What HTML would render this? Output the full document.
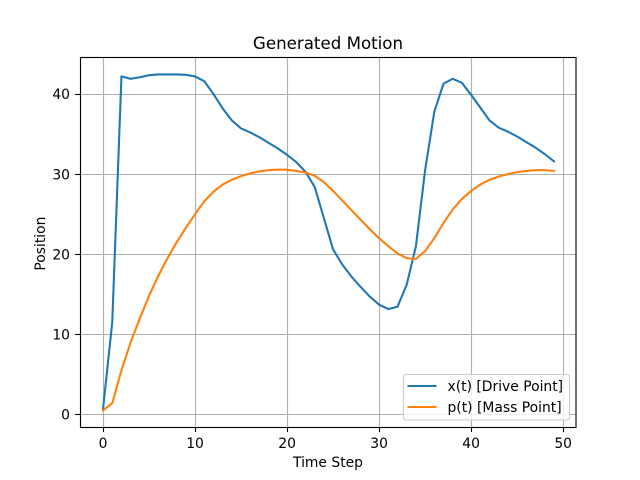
<!DOCTYPE html>
<html>
<head>
<meta charset="utf-8">
<title>Generated Motion</title>
<style>
html,body{margin:0;padding:0;background:#fff;}
svg{display:block;}
text{font-family:"DejaVu Sans","Liberation Sans",sans-serif;fill:#000;}
</style>
</head>
<body>
<svg id="chart" xmlns="http://www.w3.org/2000/svg" width="640" height="480" viewBox="0 0 640 480">
<rect x="0" y="0" width="640" height="480" fill="#ffffff"/>
<text x="328" y="49" font-size="16.67" text-anchor="middle">Generated Motion</text>
<text x="328" y="467" font-size="13.89" text-anchor="middle">Time Step</text>
<text x="45" y="243.6" font-size="13.89" text-anchor="middle" transform="rotate(-90 45 243.6)">Position</text>
<g id="grid"></g>
<g id="series"></g>
<g id="axes"></g>
<g id="legend"></g>
</svg>
<script>
const timeSteps = [0,1,2,3,4,5,6,7,8,9,10,11,12,13,14,15,16,17,18,19,20,21,22,23,24,25,26,27,28,29,30,31,32,33,34,35,36,37,38,39,40,41,42,43,44,45,46,47,48,49];
const drivePoint = [0.7,11.5,42.2,41.9,42.1,42.35,42.45,42.45,42.45,42.4,42.2,41.6,40,38.2,36.7,35.7,35.2,34.6,33.9,33.2,32.4,31.5,30.3,28.4,24.5,20.6,18.7,17.2,15.9,14.7,13.7,13.15,13.45,16.2,21,30.5,37.8,41.3,41.9,41.4,39.9,38.3,36.7,35.8,35.3,34.7,34,33.3,32.5,31.6];
const massPoint = [0.5,1.4,5.5,9,12,14.8,17.3,19.5,21.5,23.3,25,26.6,27.8,28.7,29.3,29.75,30.1,30.35,30.5,30.55,30.55,30.4,30.2,29.8,29,27.9,26.7,25.5,24.3,23.1,22,21,20.1,19.5,19.4,20.4,22,23.9,25.6,26.9,27.9,28.7,29.3,29.7,30,30.25,30.4,30.5,30.5,30.4];
const xTicks = [0,10,20,30,40,50];
const yTicks = [0,10,20,30,40];
const legendLabels = ["x(t) [Drive Point]","p(t) [Mass Point]"];

const NS = "http://www.w3.org/2000/svg";
const plot = {left:80, right:576, top:57.6, bottom:427.2};
const xDomain = [-2.45, 51.45];
const yDomain = [-1.6, 44.55];
function xScale(v){ return plot.left + (v - xDomain[0]) / (xDomain[1] - xDomain[0]) * (plot.right - plot.left) + 0.5; }
function yScale(v){ return plot.bottom - (v - yDomain[0]) / (yDomain[1] - yDomain[0]) * (plot.bottom - plot.top); }
function snap(v){ return Math.floor(v) + 0.5; }
function make(tag, attrs, parent){
  const el = document.createElementNS(NS, tag);
  for (const k in attrs) el.setAttribute(k, attrs[k]);
  parent.appendChild(el);
  return el;
}

const grid = document.getElementById("grid");
const series = document.getElementById("series");
const axes = document.getElementById("axes");
const legend = document.getElementById("legend");

xTicks.forEach(function(t){
  const x = snap(xScale(t));
  const g = make("line", {x1:x, x2:x, y1:plot.top, y2:plot.bottom, stroke:"#b0b0b0", "stroke-width":1.11}, grid);
  
  
  const m = make("line", {x1:x, x2:x, y1:plot.bottom, y2:plot.bottom + 4.86, stroke:"#000", "stroke-width":1.11}, axes);
  
  
  const l = make("text", {x:xScale(t), y:448, "font-size":13.89, "text-anchor":"middle"}, axes);
  
  
  l.textContent = t;
});

yTicks.forEach(function(t){
  const y = snap(yScale(t));
  const g = make("line", {x1:plot.left, x2:plot.right, y1:y, y2:y, stroke:"#b0b0b0", "stroke-width":1.11}, grid);
  
  
  const m = make("line", {x1:plot.left - 4.86, x2:plot.left, y1:y, y2:y, stroke:"#000", "stroke-width":1.11}, axes);
  
  
  const l = make("text", {x:70, y:yScale(t) + 5.2, "font-size":13.89, "text-anchor":"end"}, axes);
  
  
  l.textContent = t;
});

function toPoints(values){
  return values.map(function(v, i){ return xScale(timeSteps[i]).toFixed(2) + "," + yScale(v).toFixed(2); }).join(" ");
}
const driveLine = make("polyline", {points:toPoints(drivePoint), fill:"none", stroke:"#1f77b4", "stroke-width":2.08, "stroke-linejoin":"round", "stroke-linecap":"square"}, series);


const massLine = make("polyline", {points:toPoints(massPoint), fill:"none", stroke:"#ff7f0e", "stroke-width":2.08, "stroke-linejoin":"round", "stroke-linecap":"square"}, series);



const frame = make("rect", {x:80.5, y:57.5, width:495.5, height:370, fill:"none", stroke:"#000", "stroke-width":1.11}, axes);



const legendBox = make("rect", {x:403.5, y:374.5, width:166, height:45.5, rx:2.8, ry:2.8, fill:"#ffffff", "fill-opacity":0.8, stroke:"#cccccc", "stroke-width":1.11}, legend);



const driveKey = make("line", {x1:407.5, x2:436.5, y1:386, y2:386, stroke:"#1f77b4", "stroke-width":2.08}, legend);


const driveLabel = make("text", {x:447.5, y:391, "font-size":13.89}, legend);


driveLabel.textContent = legendLabels[0];

const massKey = make("line", {x1:407.5, x2:436.5, y1:407, y2:407, stroke:"#ff7f0e", "stroke-width":2.08}, legend);


const massLabel = make("text", {x:447.5, y:412, "font-size":13.89}, legend);


massLabel.textContent = legendLabels[1];
</script>
</body>
</html>
